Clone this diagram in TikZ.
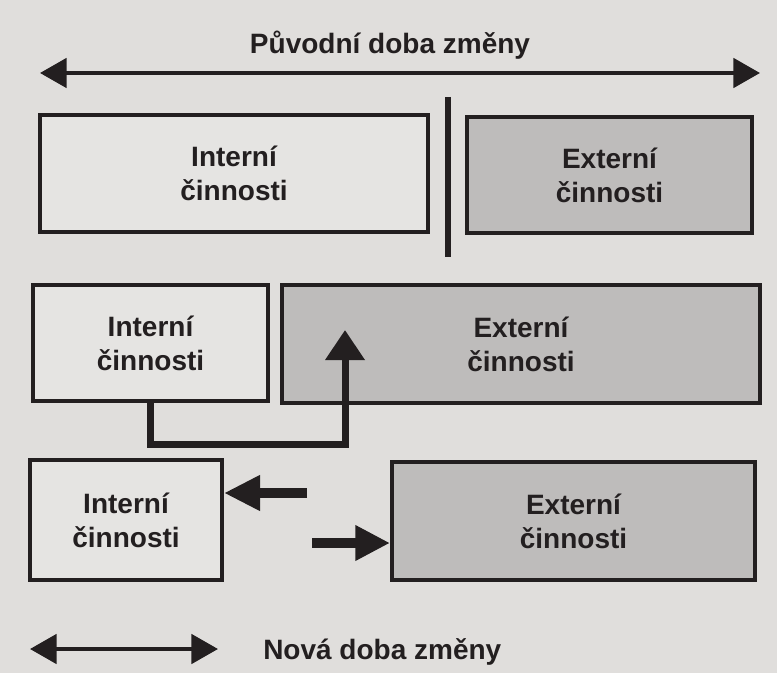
\documentclass[tikz,border=0pt]{standalone}
\usepackage{fontspec}
\setmainfont{Liberation Sans}
\usetikzlibrary{arrows.meta,positioning}
\definecolor{paper}{RGB}{224,222,220}
\definecolor{boxwhite}{RGB}{229,228,226}
\definecolor{boxgray}{RGB}{190,188,187}
\definecolor{ink}{RGB}{35,31,32}
\begin{document}
\begin{tikzpicture}[x=0.75pt, y=-0.75pt,
    box/.style={draw=ink, line width=3pt, text=ink, align=center, inner sep=0pt,
        font=\fontsize{21}{25.5}\selectfont\bfseries},
    intbox/.style={box, fill=boxwhite},
    extbox/.style={box, fill=boxgray},
    dimline/.style={draw=ink, line width=3pt, {Triangle[length=20pt, width=22pt]}-{Triangle[length=20pt, width=22pt]}},
    label/.style={text=ink, font=\fontsize{21}{25.5}\selectfont\bfseries, inner sep=0pt}]
\fill[paper] (0,0) rectangle (777,673);
\useasboundingbox (0,0) rectangle (777,673);

% puvodni stav
\coordinate (topL) at (40,73);
\coordinate (topR) at (760,73);
\draw[dimline] (topL) -- (topR);
\node[label] (title) at (390,45) {Původní doba změny};
\node[intbox, minimum width=291pt, minimum height=87.75pt] (int1) at (234,173.5) {Interní\\činnosti};
\node[extbox, minimum width=213.75pt, minimum height=87pt] (ext1) at (609.5,175) {Externí\\činnosti};
\draw[ink, line width=4.5pt] (448,97) -- (448,257);

% prevod cinnosti
\node[intbox, minimum width=176.25pt, minimum height=87pt] (int2) at (150.5,343) {Interní\\činnosti};
\node[extbox, minimum width=358.5pt, minimum height=88.5pt] (ext2) at (521,344) {Externí\\činnosti};
\coordinate (low) at (345,444);
\coordinate (tip2) at (345,330);
\draw[ink, line width=5.25pt, -{Triangle[length=22.5pt, width=28.5pt]}] (int2.south) |- (low) -- (tip2);

% novy stav
\node[intbox, minimum width=144pt, minimum height=90pt] (int3) at (126,520) {Interní\\činnosti};
\node[extbox, minimum width=272.25pt, minimum height=88.5pt] (ext3) at (573.5,521) {Externí\\činnosti};
\coordinate (la) at (307,493);
\coordinate (ra) at (312,543);
\draw[ink, line width=7.5pt, -{Triangle[length=27pt, width=25pt]}] (la) -- (la -| int3.east);
\draw[ink, line width=7.5pt, -{Triangle[length=26pt, width=25pt]}] (ra) -- (ra -| ext3.west);

\coordinate (botL) at (30,649);
\coordinate (botR) at (218,649);
\draw[dimline] (botL) -- (botR);
\node[label, anchor=west] (newtime) at (263,652) {Nová doba změny};
\end{tikzpicture}
\end{document}
